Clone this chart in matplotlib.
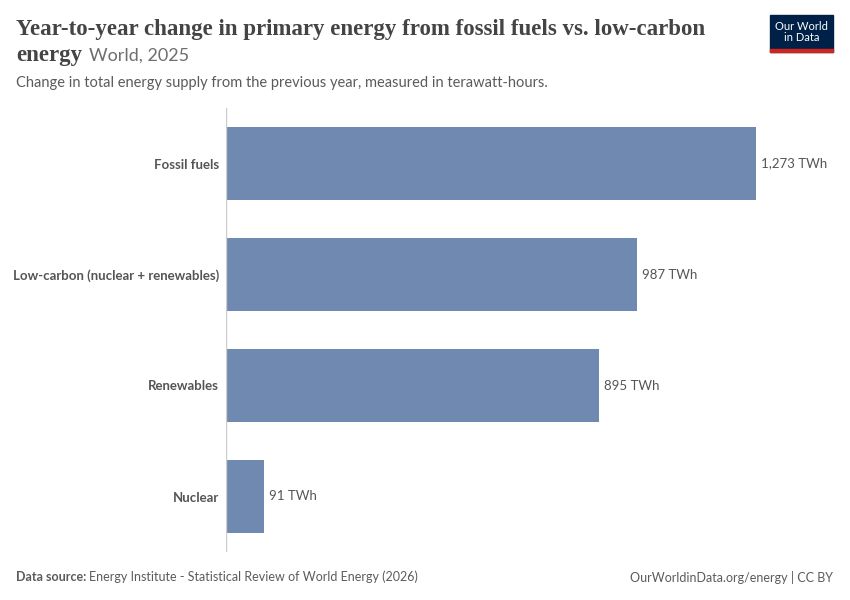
import matplotlib.pyplot as plt
from matplotlib.patches import Rectangle

categories = ["Fossil fuels", "Low-carbon (nuclear + renewables)", "Renewables", "Nuclear"]
values = [1273, 987, 895, 91]
value_labels = ["1,273 TWh", "987 TWh", "895 TWh", "91 TWh"]

W, H = 850, 600
fig = plt.figure(figsize=(8.5, 6), dpi=100)
ax = fig.add_axes([226 / W, 1 - 552 / H, 530 / W, 444 / H])

ypos = list(range(len(categories)))
ax.barh(ypos, values, height=0.65, color="#6f89b1")
ax.set_xlim(0, 1273)
ax.set_ylim(3.5, -0.5)
for s in ax.spines.values():
    s.set_visible(False)
ax.axvline(0, color="#cccccc", lw=1)
ax.set_xticks([])
ax.set_yticks(ypos)
ax.set_yticklabels(categories, fontfamily="Lato", fontweight="bold", fontsize=9.5, color="#555555")
ax.tick_params(axis="y", length=0, pad=5)
for y, v, lab in zip(ypos, values, value_labels):
    ax.text(v + 12, y, lab, va="center", ha="left", fontfamily="Lato", fontsize=9.5,
            color="#555555", clip_on=False)

fig.text(16 / W, 1 - 30 / H, "Year-to-year change in primary energy from fossil fuels vs. low-carbon",
         fontfamily="Liberation Serif", fontweight="bold", fontsize=16.5, color="#444444", va="center")
fig.text(16 / W, 1 - 56 / H, "energy", fontfamily="Liberation Serif", fontweight="bold",
         fontsize=16.5, color="#444444", va="center")
fig.text(89 / W, 1 - 56 / H, "World, 2025", fontfamily="Lato", fontsize=13, color="#6e6e6e", va="center")
fig.text(16 / W, 1 - 83 / H, "Change in total energy supply from the previous year, measured in terawatt-hours.",
         fontfamily="Lato", fontsize=10.5, color="#5b5b5b", va="center")

fig.text(16 / W, 1 - 577 / H, "Data source:", fontfamily="Lato", fontweight="bold", fontsize=9,
         color="#5b5b5b", va="center")
fig.text(89 / W, 1 - 577 / H, "Energy Institute - Statistical Review of World Energy (2026)",
         fontfamily="Lato", fontsize=9, color="#5b5b5b", va="center")
fig.text(833 / W, 1 - 577 / H, "OurWorldinData.org/energy | CC BY", fontfamily="Lato", fontsize=9,
         color="#5b5b5b", va="center", ha="right")

# logo
fig.patches.append(Rectangle((770 / W, 1 - 52 / H), 63 / W, 37 / H, transform=fig.transFigure,
                             color="#002147"))
fig.patches.append(Rectangle((770 / W, 1 - 52 / H), 63 / W, 3 / H, transform=fig.transFigure,
                             color="#ce261e"))
fig.text(801.5 / W, 1 - 32 / H, "Our World\nin Data", fontfamily="Lato", fontsize=8, color="white",
         ha="center", va="center", linespacing=1.0)

fig.savefig("out.png", dpi=100)
